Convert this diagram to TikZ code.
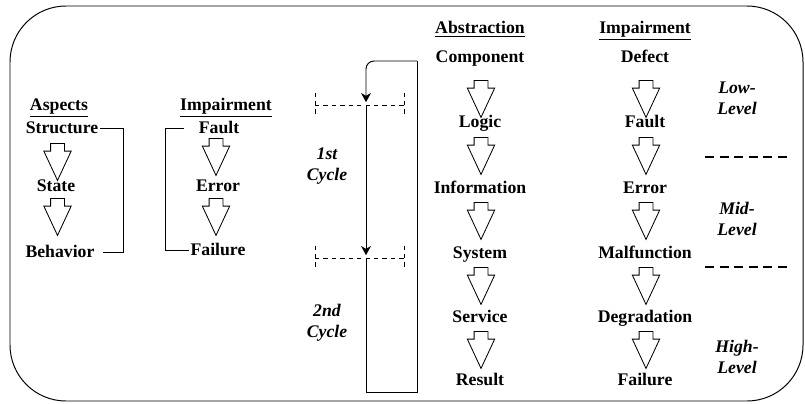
\documentclass[tikz,border=0pt]{standalone}
\usepackage{fontspec}
\setmainfont{Liberation Serif}
\usetikzlibrary{shapes,arrows,arrows.meta,positioning}

\begin{document}
\begin{tikzpicture}[
    term/.style={font=\fontsize{12.6}{15}\selectfont\bfseries, inner sep=1pt, text height=8.4pt, text depth=0pt},
    layer/.style={font=\fontsize{12.6}{15}\selectfont\bfseries\itshape, align=center, inner sep=1pt},
    flow/.style={single arrow, draw, anchor=tail, rotate=-90, line width=0.6pt, minimum height=0.925cm, inner xsep=0.05cm, inner ysep=0.1625cm, single arrow head extend=0.169cm, single arrow tip angle=50},
    arrow/.style={->, >={Stealth[length=6.5pt, width=7pt, inset=2pt]}, line width=0.7pt, shorten >=2pt},
    frame/.style={draw, line width=0.7pt, rounded corners=1.4cm},
    bracket/.style={line width=0.7pt},
    cyclemark/.style={dashed, line width=0.5pt},
    separator/.style={line width=1.4pt, dash pattern=on 6.4pt off 4pt}
]
\useasboundingbox (0,0) rectangle (20.125,-10.075);

% Frame
\coordinate (frameNW) at (0.25,-0.15);
\coordinate (frameSE) at (20.075,-10.025);
\draw[frame] (frameNW) rectangle (frameSE);

% Aspects
\node[term] (aspHead) at (1.475,-2.625) {\underline{Aspects}};
\node[term] (structure) at (1.55,-3.2) {Structure};
\node[term] (state) at (1.4,-4.65) {State};
\node[term] (behavior) at (1.5,-6.3) {Behavior};
\node[flow] (aspArrA) at (1.4375,-3.575) {};
\node[flow] (aspArrB) at (1.4375,-4.95) {};
\draw[bracket] (structure.east) -- ++(0.6,0) |- ([xshift=0.18cm]behavior.east);

% Impairment (left)
\node[term] (impHeadL) at (5.65,-2.625) {\underline{Impairment}};
\node[term] (faultL) at (5.475,-3.2) {Fault};
\node[term] (errorL) at (5.45,-4.65) {Error};
\node[term] (failureL) at (5.45,-6.25) {Failure};
\node[flow] (impArrA) at (5.4,-3.45) {};
\node[flow] (impArrB) at (5.4,-4.95) {};
\draw[bracket] ([xshift=-0.34cm]faultL.west) -- ++(-0.45,0) |- (failureL.west);

% Cycles
\coordinate (loopTop) at (10.425,-1.525);
\coordinate (cycA) at (9.15,-2.625);
\coordinate (cycB) at (9.15,-6.45);
\coordinate (loopBot) at (9.15,-9.8);
\draw[arrow, rounded corners=0.2cm] (loopTop) -| (cycA);
\draw[arrow] (cycA) -- (cycB);
\draw[bracket] (cycB) -- (loopBot) -| (loopTop);

\coordinate (markA1) at (7.875,-2.625);
\coordinate (markA2) at (10.1,-2.625);
\coordinate (markB1) at (7.875,-6.45);
\coordinate (markB2) at (10.1,-6.45);
\draw[cyclemark] (markA1) -- (markA2);
\draw[cyclemark] ([yshift=0.3125cm]markA1) -- ([yshift=-0.3125cm]markA1);
\draw[cyclemark] ([yshift=0.3125cm]markA2) -- ([yshift=-0.3125cm]markA2);
\draw[cyclemark] (markB1) -- (markB2);
\draw[cyclemark] ([yshift=0.3125cm]markB1) -- ([yshift=-0.3125cm]markB1);
\draw[cyclemark] ([yshift=0.3125cm]markB2) -- ([yshift=-0.3125cm]markB2);

\node[layer] (cycleOne) at (8.175,-4.1625) {1st\\Cycle};
\node[layer] (cycleTwo) at (8.175,-8.075) {2nd\\Cycle};

% Abstraction
\node[term] (absHead) at (12.0,-0.7) {\underline{Abstraction}};
\node[term] (component) at (12.0,-1.425) {Component};
\node[term] (logic) at (12.0,-3.05) {Logic};
\node[term] (information) at (12.0,-4.7) {Information};
\node[term] (system) at (12.0,-6.325) {System};
\node[term] (service) at (12.0,-7.925) {Service};
\node[term] (result) at (12.0,-9.5) {Result};
\node[flow] (absArrA) at (12.025,-2.0) {};
\node[flow] (absArrB) at (12.025,-3.425) {};
\node[flow] (absArrC) at (12.025,-5.05) {};
\node[flow] (absArrD) at (12.025,-6.675) {};
\node[flow] (absArrE) at (12.025,-8.275) {};

% Impairment (right)
\node[term] (impHeadR) at (16.125,-0.7) {\underline{Impairment}};
\node[term] (defect) at (16.125,-1.425) {Defect};
\node[term] (faultR) at (16.125,-3.05) {Fault};
\node[term] (errorR) at (16.125,-4.7) {Error};
\node[term] (malfunction) at (16.125,-6.325) {Malfunction};
\node[term] (degradation) at (16.125,-7.925) {Degradation};
\node[term] (failureR) at (16.125,-9.5) {Failure};
\node[flow] (impArrC) at (16.15,-2.0) {};
\node[flow] (impArrD) at (16.15,-3.425) {};
\node[flow] (impArrE) at (16.15,-5.05) {};
\node[flow] (impArrF) at (16.15,-6.675) {};
\node[flow] (impArrG) at (16.15,-8.275) {};

% Levels
\node[layer] (lowLevel) at (18.425,-2.4625) {Low-\\Level};
\node[layer] (midLevel) at (18.425,-5.475) {Mid-\\Level};
\node[layer] (highLevel) at (18.425,-8.925) {High-\\Level};
\coordinate (sepA1) at (17.625,-3.925);
\coordinate (sepA2) at (19.7,-3.925);
\coordinate (sepB1) at (17.625,-6.675);
\coordinate (sepB2) at (19.7,-6.675);
\draw[separator] (sepA1) -- (sepA2);
\draw[separator] (sepB1) -- (sepB2);

\end{tikzpicture}
\end{document}
